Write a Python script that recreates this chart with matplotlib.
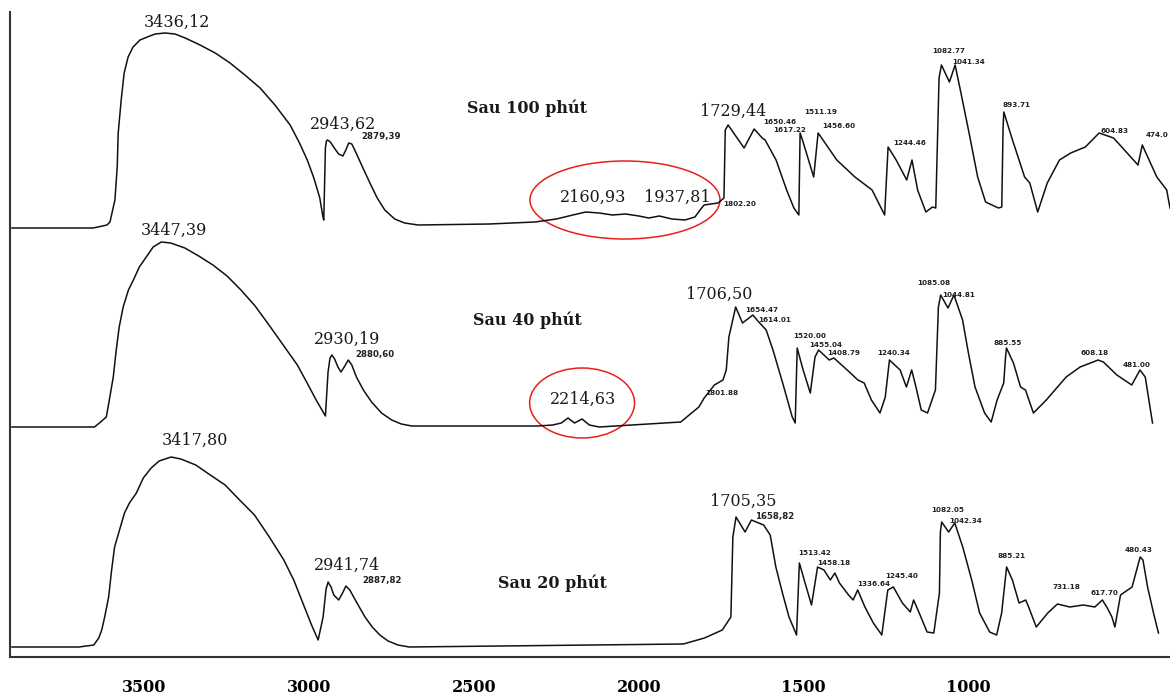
import matplotlib.pyplot as plt
from matplotlib.patches import Ellipse
import numpy as np

# FTIR spectra (wavenumber cm-1, band height) after 100, 40 and 20 minutes
top_pts = [(3900, 0), (3654, 0), (3612, 3), (3603, 6), (3588, 28), (3581, 61), (3578, 95), (3569, 128),
           (3560, 155), (3548, 171), (3533, 181), (3512, 188), (3490, 191), (3466, 194), (3436.12, 195),
           (3406, 194), (3375, 190), (3330, 183), (3284, 175), (3239, 165), (3194, 153), (3148, 140),
           (3103, 123), (3057, 103), (3030, 86), (3005, 68), (2985, 50), (2967, 30), (2958, 12), (2955, 8),
           (2950, 80), (2947, 87), (2943.62, 88), (2935, 86), (2923, 80), (2910, 74), (2897, 72), (2888, 78),
           (2879.39, 85), (2870, 84), (2861, 78), (2850, 70), (2839, 62), (2815, 45), (2793, 30), (2770, 18),
           (2740, 9), (2710, 5), (2669, 3), (2453, 4), (2315, 6), (2250, 9), (2200, 13), (2160.93, 16),
           (2120, 15), (2080, 13), (2040, 14), (2000, 12), (1970, 10), (1937.81, 12), (1900, 9), (1860, 8),
           (1830, 11), (1812, 19), (1802.20, 23), (1760, 25), (1742, 30), (1738, 98), (1729.44, 103),
           (1681, 80), (1650.46, 99), (1626, 90), (1617.22, 88), (1584, 68), (1552, 38), (1530, 20),
           (1515, 13), (1511.19, 95), (1504, 88), (1470, 51), (1456.60, 95), (1448, 91), (1400, 68),
           (1345, 51), (1293, 38), (1255, 13), (1244.46, 81), (1220, 68), (1188, 48), (1172, 68), (1155, 38),
           (1130, 16), (1110, 21), (1100, 20), (1090, 150), (1082.77, 163), (1058.6, 146), (1041.34, 163),
           (1025.5, 138), (999, 95), (973, 51), (949, 26), (910, 20), (900, 21), (896, 100), (893.71, 116),
           (867.4, 88), (830.7, 51), (815, 45), (791, 16), (762, 45), (725, 68), (691, 75), (646.6, 81),
           (604.83, 95), (561, 90), (487, 63), (474.0, 83), (430, 51), (400, 38), (390, 20)]

mid_pts = [(3900, 0), (3650, 0), (3635, 4), (3614, 10), (3605, 27), (3593, 50), (3584, 77), (3575, 100),
           (3563, 120), (3547, 137), (3532, 147), (3514, 160), (3493, 170), (3472, 180), (3447.39, 185),
           (3419, 184), (3376, 179), (3334, 171), (3291, 162), (3248, 151), (3206, 137), (3163, 121),
           (3121, 102), (3078, 82), (3035, 62), (3007, 45), (2978, 27), (2950, 11), (2942, 55), (2936, 69),
           (2930.19, 72), (2922, 68), (2912, 60), (2903, 55), (2893, 60), (2880.60, 67), (2870, 62),
           (2856, 50), (2835, 37), (2810, 25), (2780, 14), (2749, 7), (2720, 3), (2688, 1), (2306, 1),
           (2261, 2), (2235, 4), (2214.63, 9), (2195, 4), (2172, 8), (2150, 2), (2120, 0), (1873, 5),
           (1818, 20), (1801.88, 29), (1771, 42), (1745, 47), (1735, 57), (1727, 90), (1706.50, 120),
           (1685.7, 104), (1654.47, 112), (1636.5, 105), (1614.01, 97), (1593.4, 77), (1564, 44), (1535, 10),
           (1526, 4), (1520.00, 79), (1502, 57), (1480.3, 34), (1466, 70), (1455.04, 77), (1423, 67),
           (1408.79, 69), (1368.5, 57), (1336, 47), (1317, 44), (1295, 27), (1269, 14), (1253, 30),
           (1240.34, 67), (1208, 57), (1189, 40), (1173, 57), (1160, 40), (1144, 17), (1125, 14), (1101, 37),
           (1092, 120), (1085.08, 132), (1063, 119), (1044.81, 132), (1018.7, 107), (1001, 74), (981, 40),
           (952, 14), (932, 5), (914, 27), (894, 44), (888.5, 70), (885.55, 79), (864.5, 64), (843, 40),
           (828, 37), (804, 14), (765, 27), (704.7, 50), (662.5, 60), (623, 65), (608.18, 67), (592, 65),
           (551, 52), (506, 42), (481.00, 57), (465, 50), (443, 4)]

bot_pts = [(3900, 0), (3697, 0), (3652, 2), (3637, 9), (3628, 17), (3619, 30), (3607, 50), (3598, 77),
           (3589, 100), (3574, 117), (3559, 134), (3544, 144), (3523, 154), (3502, 169), (3478, 179),
           (3454, 186), (3417.80, 190), (3388, 188), (3343, 182), (3299, 172), (3254, 162), (3210, 147),
           (3165, 132), (3120, 110), (3076, 87), (3046, 67), (3016, 42), (2992, 22), (2972, 7), (2957, 30),
           (2948, 58), (2941.74, 65), (2933, 60), (2924.5, 52), (2909.7, 47), (2898, 54), (2887.82, 61),
           (2876, 57), (2856, 45), (2830, 30), (2808, 20), (2785, 12), (2760, 6), (2730, 2), (2696, 0),
           (1865, 3), (1801, 9), (1747, 17), (1721, 30), (1715, 110), (1705.35, 130), (1678, 115),
           (1658.82, 127), (1621.7, 122), (1601.8, 112), (1584.7, 80), (1564.7, 54), (1544.8, 30), (1522, 12),
           (1513.42, 84), (1498.7, 67), (1476.6, 42), (1458.18, 80), (1438.9, 77), (1419.5, 67), (1405.7, 74),
           (1391.9, 64), (1364.2, 52), (1350.4, 47), (1336.64, 57), (1314.7, 40), (1289.2, 24), (1263.6, 12),
           (1245.40, 57), (1228.4, 60), (1201.2, 44), (1177.3, 35), (1167.1, 47), (1150.1, 34), (1126.3, 15),
           (1105.9, 14), (1088.9, 54), (1086, 115), (1082.05, 125), (1061, 115), (1042.34, 124), (1018.2, 100),
           (991, 67), (967, 34), (936.6, 15), (915.4, 12), (900.3, 34), (885.21, 80), (867.8, 67), (847.5, 44),
           (827.2, 47), (818.5, 40), (795.3, 20), (760.5, 34), (731.18, 43), (693.6, 40), (653, 42),
           (617.70, 40), (595, 47), (580, 39), (566, 30), (557, 20), (540, 52), (505, 60), (480.43, 90),
           (472, 87), (458, 60), (440, 34), (425, 14)]

# peak labels: (text, wavenumber)
top_big = [("3436,12", 3436.12), ("2943,62", 2943.62), ("2160,93", 2160.93), ("1937,81", 1937.81),
           ("1729,44", 1729.44)]
top_small = [("2879,39", 2879.39), ("1802.20", 1802.20), ("1650.46", 1650.46), ("1617.22", 1617.22),
             ("1511.19", 1511.19), ("1456.60", 1456.60), ("1244.46", 1244.46), ("1082.77", 1082.77),
             ("1041.34", 1041.34), ("893.71", 893.71), ("604.83", 604.83), ("474.0", 474.0)]
mid_big = [("3447,39", 3447.39), ("2930,19", 2930.19), ("2214,63", 2214.63), ("1706,50", 1706.50)]
mid_small = [("2880,60", 2880.60), ("1801.88", 1801.88), ("1654.47", 1654.47), ("1614.01", 1614.01),
             ("1520.00", 1520.00), ("1455.04", 1455.04), ("1408.79", 1408.79), ("1240.34", 1240.34),
             ("1085.08", 1085.08), ("1044.81", 1044.81), ("885.55", 885.55), ("608.18", 608.18),
             ("481.00", 481.00)]
bot_big = [("3417,80", 3417.80), ("2941,74", 2941.74), ("1705,35", 1705.35)]
bot_small = [("2887,82", 2887.82), ("1658,82", 1658.82), ("1513.42", 1513.42), ("1458.18", 1458.18),
             ("1336.64", 1336.64), ("1245.40", 1245.40), ("1082.05", 1082.05), ("1042.34", 1042.34),
             ("885.21", 885.21), ("731.18", 731.18), ("617.70", 617.70), ("480.43", 480.43)]

titles = ["Sau 100 phút", "Sau 40 phút", "Sau 20 phút"]
ticks = [3500, 3000, 2500, 2000, 1500, 1000]

# layout: vertical offsets of the stacked spectra and label nudges (pixels)
baselines = [429, 230, 10]
title_pos = [(2339, 549), (2339, 337), (2263, 74)]
top_big_off = [(12, 11), (16, 16), (7, 15), (18, 19), (5, 14)]
top_small_off = [(13, 6), (19, 1), (9, 7), (8, 10), (4, 21), (4, 7), (5, 4), (-9, 14), (-3, 3), (-1, 7),
                 (1, 2), (3, 10)]
mid_big_off = [(13, 12), (15, 16), (15, 19), (-16, 13)]
mid_small_off = [(7, 5), (1, 5), (-8, 5), (-8, 10), (-4, 12), (-9, 5), (-7, 5), (-12, 7), (-23, 12),
                 (-12, 0), (-13, 5), (-18, 7), (-17, 5)]
bot_big_off = [(24, 17), (19, 17), (7, 16)]
bot_small_off = [(16, 6), (4, 4), (-1, 10), (0, 4), (0, 6), (-3, 14), (-10, 12), (-6, 2), (-9, 11), (-5, 17),
                 (-4, 14), (-15, 7)]

fig = plt.figure(figsize=(11.7, 6.94), dpi=100)
ax = fig.add_axes([10 / 1170, 37 / 694, 1160 / 1170, 645 / 694])

serif = "DejaVu Serif"
spectra = [(top_pts, top_big, top_big_off, top_small, top_small_off),
           (mid_pts, mid_big, mid_big_off, mid_small, mid_small_off),
           (bot_pts, bot_big, bot_big_off, bot_small, bot_small_off)]

for i, (pts, big, big_off, small, small_off) in enumerate(spectra):
    nu = np.array([p[0] for p in pts])
    h = np.array([p[1] for p in pts]) + baselines[i]
    ax.plot(nu, h, color="#111111", lw=1.1, solid_joinstyle="round")
    for (txt, x), off in zip(big, big_off):
        y = np.interp(x, nu[::-1], h[::-1])
        ax.annotate(txt, (x, y), xytext=off, textcoords="offset pixels", ha="center", va="center",
                    fontsize=11.5, family=serif, color="#1a1a1a")
    for (txt, x), off in zip(small, small_off):
        y = np.interp(x, nu[::-1], h[::-1])
        size = 6.2 if "," in txt else 5.2
        ax.annotate(txt, (x, y), xytext=off, textcoords="offset pixels", ha="left", va="center",
                    fontsize=size, fontweight="bold", color="#222222")
    ax.text(title_pos[i][0], title_pos[i][1], titles[i], ha="center", va="center",
            fontsize=11.5, fontweight="bold", family=serif, color="#1a1a1a")

# highlighted weak bands
ax.add_patch(Ellipse((2042, 457), 576, 78, fill=False, ec="#e8201c", lw=1.1))
ax.add_patch(Ellipse((2172, 254), 318, 70, fill=False, ec="#e8201c", lw=1.1))

ax.set_xlim(3906, 390)
ax.set_ylim(0, 645)
ax.set_xticks(ticks)
ax.set_xticklabels([str(t) for t in ticks], family=serif, fontsize=11.5, fontweight="bold")
ax.tick_params(axis="x", length=0, pad=16)
ax.set_yticks([])
for s in ["top", "right"]:
    ax.spines[s].set_visible(False)
ax.spines["left"].set_linewidth(1.5)
ax.spines["bottom"].set_linewidth(1.5)
ax.spines["left"].set_color("#333333")
ax.spines["bottom"].set_color("#333333")

fig.savefig("out.png", dpi=100)
